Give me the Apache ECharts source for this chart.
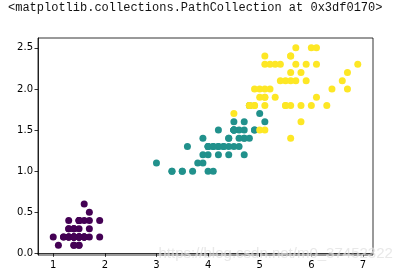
<!DOCTYPE html>
<html><head><meta charset="utf-8">
<script src="https://cdn.jsdelivr.net/npm/echarts@6/dist/echarts.min.js"></script>
<style>html,body{margin:0;padding:0;background:#fff}#c{width:415px;height:274px}</style>
</head><body><div id="c"></div>
<script>
// Iris petal length (x) / petal width (y) by species
const setosaLength = [1.4,1.4,1.3,1.5,1.4,1.7,1.4,1.5,1.4,1.5,1.5,1.6,1.4,1.1,1.2,1.5,1.3,1.4,1.7,1.5,1.7,1.5,1.0,1.7,1.9,1.6,1.6,1.5,1.4,1.6,1.6,1.5,1.5,1.4,1.5,1.2,1.3,1.4,1.3,1.5,1.3,1.3,1.3,1.6,1.9,1.4,1.6,1.4,1.5,1.4];
const setosaWidth  = [0.2,0.2,0.2,0.2,0.2,0.4,0.3,0.2,0.2,0.1,0.2,0.2,0.1,0.1,0.2,0.4,0.4,0.3,0.3,0.3,0.2,0.4,0.2,0.5,0.2,0.2,0.4,0.2,0.2,0.2,0.2,0.4,0.1,0.2,0.2,0.2,0.2,0.1,0.2,0.2,0.3,0.3,0.2,0.6,0.4,0.3,0.2,0.2,0.2,0.2];
const versicolorLength = [4.7,4.5,4.9,4.0,4.6,4.5,4.7,3.3,4.6,3.9,3.5,4.2,4.0,4.7,3.6,4.4,4.5,4.1,4.5,3.9,4.8,4.0,4.9,4.7,4.3,4.4,4.8,5.0,4.5,3.5,3.8,3.7,3.9,5.1,4.5,4.5,4.7,4.4,4.1,4.0,4.4,4.6,4.0,3.3,4.2,4.2,4.2,4.3,3.0,4.1];
const versicolorWidth  = [1.4,1.5,1.5,1.3,1.5,1.3,1.6,1.0,1.3,1.4,1.0,1.5,1.0,1.4,1.3,1.4,1.5,1.0,1.5,1.1,1.8,1.3,1.5,1.2,1.3,1.4,1.4,1.7,1.5,1.0,1.1,1.0,1.2,1.6,1.5,1.6,1.5,1.3,1.3,1.3,1.2,1.4,1.2,1.0,1.3,1.2,1.3,1.3,1.1,1.3];
const virginicaLength = [6.0,5.1,5.9,5.6,5.8,6.6,4.5,6.3,5.8,6.1,5.1,5.3,5.5,5.0,5.1,5.3,5.5,6.7,6.9,5.0,5.7,4.9,6.7,4.9,5.7,6.0,4.8,4.9,5.6,5.8,6.1,6.4,5.6,5.1,5.6,6.1,5.6,5.5,4.8,5.4,5.6,5.1,5.1,5.9,5.7,5.2,5.0,5.2,5.4,5.1];
const virginicaWidth  = [2.5,1.9,2.1,1.8,2.2,2.1,1.7,1.8,1.8,2.5,2.0,1.9,2.1,2.0,2.4,2.3,1.8,2.2,2.3,1.5,2.3,2.0,2.0,1.8,2.1,1.8,1.8,1.8,2.1,1.6,1.9,2.0,2.2,1.5,1.4,2.3,2.4,1.8,1.8,2.1,2.4,2.3,1.9,2.3,2.5,2.3,1.9,2.0,2.3,1.8];
const xTicks = [1,2,3,4,5,6,7];
const yTicks = [0,0.5,1.0,1.5,2.0,2.5];
const titleText = '<matplotlib.collections.PathCollection at 0x3df0170>';
const watermark = 'https://blog.csdn.net/m0_37452322';

const zip = (a,b) => a.map((v,i)=>[v,b[i]]);
const colors = ['#440154','#21918c','#fde725'];
const sets = [zip(setosaLength,setosaWidth), zip(versicolorLength,versicolorWidth), zip(virginicaLength,virginicaWidth)];

const chart = echarts.init(document.getElementById('c'), null, {renderer:'canvas'});
const lab = {color:'#000', fontFamily:'DejaVu Sans', fontSize:10};
chart.setOption({
  animation:false,
  grid:{left:38, right:42, top:38, bottom:19, show:true, borderColor:'#000', borderWidth:0.8, backgroundColor:'#fff'},
  xAxis:{type:'value', min:0.705, max:7.195,
    axisLine:{show:true, lineStyle:{color:'#000', width:0.8}},
    axisTick:{show:true, length:3.5, inside:false, customValues:xTicks, lineStyle:{color:'#000', width:0.8}},
    axisLabel:Object.assign({customValues:xTicks, margin:5, formatter:v=>String(v)}, lab),
    splitLine:{show:false}},
  yAxis:{type:'value', min:-0.02, max:2.62,
    axisLine:{show:true, lineStyle:{color:'#000', width:0.8}},
    axisTick:{show:true, length:3.5, inside:false, customValues:yTicks, lineStyle:{color:'#000', width:0.8}},
    axisLabel:Object.assign({customValues:yTicks, margin:5, formatter:v=>v.toFixed(1)}, lab),
    splitLine:{show:false}},
  series: sets.map((d,i)=>({type:'scatter', data:d, symbol:'circle', symbolSize:7,
    itemStyle:{color:colors[i], opacity:1}, silent:true})),
  graphic:[
    {type:'text', left:8, top:2, style:{text:titleText, fill:'#111', font:'12px "Liberation Mono", "DejaVu Sans Mono", monospace'}},
    {type:'text', left:158, top:246, z:100, style:{text:watermark, fill:'rgba(210,210,210,0.5)', font:'15px "Liberation Sans", Arial, sans-serif', stroke:'rgba(255,255,255,0.5)', lineWidth:1}}
  ]
});
</script></body></html>
